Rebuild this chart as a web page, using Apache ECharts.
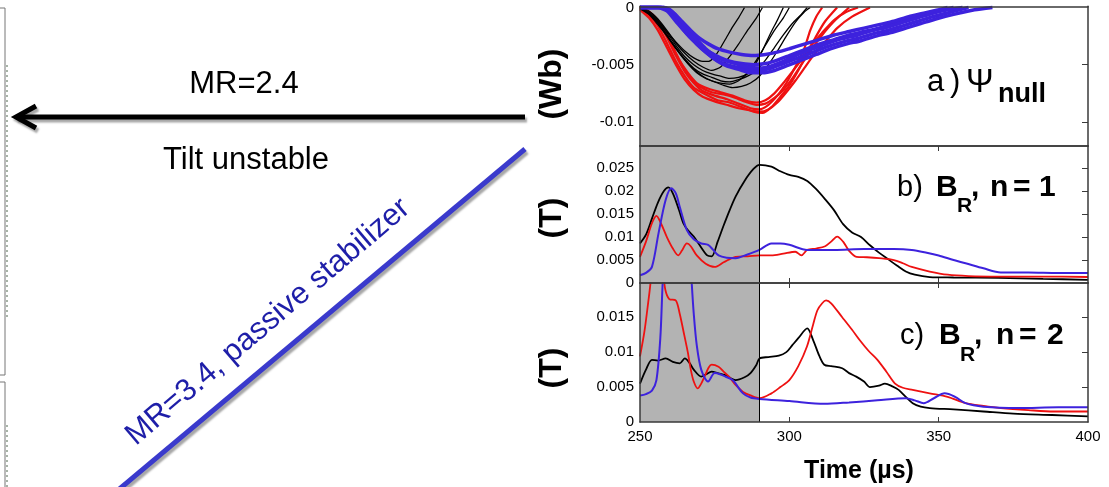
<!DOCTYPE html>
<html>
<head>
<meta charset="utf-8">
<script src="https://cdn.jsdelivr.net/npm/echarts@6/dist/echarts.min.js"></script>
<style>
html,body{margin:0;padding:0;background:#fff;}
#c{width:1109px;height:487px;}
</style>
</head>
<body>
<div id="c"></div>
<script>
// ---------- tick labels ----------
const timeTicks = [250, 300, 350, 400];
const timeMinorTicks = [300, 350];
const psiTicks = [0, -0.005, -0.01];
const brN1Ticks = [0, 0.005, 0.01, 0.015, 0.02, 0.025];
const brN2Ticks = [0, 0.005, 0.01, 0.015];
const shadeRange = [250, 290];

// ---------- a) Psi_null (Wb), several shots per case ----------
const psiRed1 = [[250,0],[253,-0.0004],[256,-0.0012],[259,-0.0026],[262,-0.0042],[265,-0.0056],[268,-0.0066],[271,-0.0073],[275,-0.0077],[279,-0.0080],[283,-0.0084],[287,-0.0088],[290,-0.0089],[293,-0.0085],[296,-0.0077],[299,-0.0066],[302,-0.0052],[305,-0.0036],[307,-0.0020],[309,-0.0008],[311,0]];
const psiRed2 = [[250,-0.0001],[253,-0.0007],[256,-0.0016],[259,-0.0031],[262,-0.0047],[265,-0.0060],[268,-0.0070],[272,-0.0076],[276,-0.0081],[280,-0.0083],[284,-0.0087],[288,-0.0091],[291,-0.0092],[294,-0.0087],[297,-0.0078],[300,-0.0068],[303,-0.0055],[306,-0.0040],[309,-0.0025],[312,-0.0012],[316,0]];
const psiRed3 = [[250,0],[252,-0.0002],[255,-0.0008],[258,-0.0019],[261,-0.0035],[264,-0.0050],[267,-0.0062],[270,-0.0069],[274,-0.0074],[278,-0.0076],[282,-0.0079],[286,-0.0083],[289,-0.0085],[292,-0.0084],[295,-0.0079],[298,-0.0072],[301,-0.0062],[304,-0.0050],[307,-0.0038],[311,-0.0024],[315,-0.0012],[320,0]];
const psiRed4 = [[250,-0.0002],[253,-0.0009],[256,-0.0020],[259,-0.0035],[262,-0.0050],[265,-0.0063],[268,-0.0072],[271,-0.0078],[275,-0.0082],[279,-0.0085],[283,-0.0088],[287,-0.0090],[290,-0.0091],[293,-0.0089],[296,-0.0083],[299,-0.0074],[302,-0.0064],[305,-0.0053],[308,-0.0042],[312,-0.0030],[316,-0.0018],[321,-0.0008],[327,0]];
const psiRed5 = [[250,0],[254,-0.0006],[257,-0.0015],[260,-0.0029],[263,-0.0045],[266,-0.0057],[269,-0.0066],[273,-0.0071],[277,-0.0074],[281,-0.0077],[285,-0.0081],[289,-0.0083],[292,-0.0081],[295,-0.0075],[298,-0.0066],[301,-0.0056],[304,-0.0046],[307,-0.0034],[311,-0.0022],[315,-0.0011],[319,-0.0004],[323,0]];

const psiBlack1 = [[250,0],[253,-0.0003],[256,-0.0010],[259,-0.0020],[262,-0.0031],[265,-0.0040],[268,-0.0047],[271,-0.0052],[274,-0.0055],[277,-0.0052],[280,-0.0043],[283,-0.0032],[286,-0.0020],[289,-0.0009],[291,0]];
const psiBlack2 = [[250,-0.0001],[253,-0.0006],[256,-0.0015],[259,-0.0025],[262,-0.0036],[265,-0.0046],[268,-0.0054],[271,-0.0060],[274,-0.0064],[277,-0.0066],[280,-0.0067],[283,-0.0064],[286,-0.0057],[289,-0.0046],[292,-0.0033],[295,-0.0020],[298,-0.0009],[300,0]];
const psiBlack3 = [[250,0],[254,-0.0008],[257,-0.0017],[260,-0.0028],[263,-0.0039],[266,-0.0049],[269,-0.0057],[272,-0.0062],[275,-0.0065],[278,-0.0068],[281,-0.0070],[284,-0.0069],[287,-0.0066],[290,-0.0060],[293,-0.0050],[296,-0.0038],[299,-0.0025],[302,-0.0013],[305,-0.0004],[307,0]];
const psiBlack4 = [[250,-0.0001],[253,-0.0005],[256,-0.0012],[259,-0.0022],[262,-0.0033],[265,-0.0043],[268,-0.0050],[271,-0.0055],[274,-0.0058],[277,-0.0060],[280,-0.0062],[283,-0.0061],[286,-0.0058],[288,-0.0052],[290,-0.0043],[292,-0.0032],[294,-0.0021],[296,-0.0011],[298,0]];
const psiBlack5 = [[250,0],[253,-0.0004],[256,-0.0011],[259,-0.0021],[262,-0.0030],[265,-0.0038],[268,-0.0044],[271,-0.0047],[273,-0.0047],[275,-0.0043],[277,-0.0035],[279,-0.0026],[281,-0.0017],[283,-0.0009],[285,0]];
const psiBlack6 = [[250,0],[253,-0.0005],[256,-0.0013],[259,-0.0024],[262,-0.0035],[265,-0.0045],[268,-0.0053],[271,-0.0058],[274,-0.0061],[277,-0.0064],[280,-0.0065],[283,-0.0063],[286,-0.0060],[289,-0.0055],[292,-0.0046],[295,-0.0035],[298,-0.0024],[301,-0.0014],[304,-0.0006],[306,0]];

const psiBlue1 = [[250,0],[256,0],[259,-0.0003],[262,-0.0012],[265,-0.0021],[268,-0.0029],[271,-0.0035],[274,-0.0040],[277,-0.0044],[280,-0.0047],[284,-0.0049],[288,-0.0050],[292,-0.0049],[296,-0.0046],[300,-0.0042],[305,-0.0037],[310,-0.0032],[315,-0.0028],[320,-0.0024],[325,-0.0021],[330,-0.0018],[335,-0.0014],[340,-0.0010],[345,-0.0006],[350,-0.0003],[355,0]];
const psiBlue2 = [[250,0],[257,0],[260,-0.0004],[263,-0.0014],[266,-0.0024],[269,-0.0032],[272,-0.0039],[275,-0.0045],[278,-0.0049],[282,-0.0052],[286,-0.0054],[290,-0.0055],[294,-0.0053],[298,-0.0049],[303,-0.0044],[308,-0.0039],[313,-0.0034],[318,-0.0030],[323,-0.0027],[328,-0.0023],[333,-0.0020],[338,-0.0016],[343,-0.0012],[348,-0.0008],[354,-0.0004],[360,0]];
const psiBlue3 = [[250,0],[258,0],[261,-0.0005],[264,-0.0015],[267,-0.0025],[270,-0.0034],[273,-0.0041],[276,-0.0047],[279,-0.0051],[283,-0.0054],[287,-0.0057],[291,-0.0057],[295,-0.0055],[299,-0.0051],[304,-0.0046],[309,-0.0041],[314,-0.0036],[319,-0.0032],[324,-0.0029],[329,-0.0025],[334,-0.0022],[339,-0.0018],[344,-0.0014],[349,-0.0010],[355,-0.0006],[362,-0.0002],[368,0]];
const psiBlue4 = [[250,0],[257,0],[260,-0.0002],[263,-0.0010],[266,-0.0019],[269,-0.0028],[272,-0.0036],[275,-0.0042],[278,-0.0046],[282,-0.0049],[286,-0.0052],[290,-0.0053],[294,-0.0051],[298,-0.0047],[303,-0.0041],[308,-0.0036],[313,-0.0031],[318,-0.0027],[323,-0.0024],[328,-0.0020],[333,-0.0017],[338,-0.0013],[343,-0.0009],[348,-0.0005],[353,-0.0002],[358,0]];
const psiBlue5 = [[250,0],[258,0],[261,-0.0004],[264,-0.0012],[267,-0.0020],[270,-0.0027],[273,-0.0032],[276,-0.0036],[280,-0.0039],[284,-0.0041],[288,-0.0042],[292,-0.0041],[296,-0.0039],[300,-0.0036],[305,-0.0032],[310,-0.0028],[315,-0.0024],[320,-0.0021],[325,-0.0018],[330,-0.0015],[335,-0.0012],[340,-0.0008],[345,-0.0005],[350,-0.0002],[353,0]];

// ---------- b) B_R, n=1 (T) ----------
const br1Black = [[250,0.0086],[252,0.0105],[254,0.0140],[256,0.0175],[258,0.0200],[259.5,0.0208],[261,0.0195],[263,0.0160],[264.5,0.0130],[266,0.0115],[268,0.0101],[270,0.0082],[272.5,0.0060],[274,0.0058],[276,0.0090],[278,0.0125],[280,0.0158],[282,0.0188],[285,0.0222],[288,0.0248],[290,0.0257],[294,0.0253],[297,0.0243],[300,0.0235],[303,0.0231],[306,0.0222],[309,0.0204],[312,0.0182],[315,0.0158],[318,0.0128],[321,0.0110],[324,0.0100],[327,0.0082],[330,0.0066],[333,0.0052],[336,0.0038],[339,0.0025],[342,0.0018],[347,0.0013],[355,0.0012],[370,0.0011],[385,0.0009],[400,0.0007]];
const br1Red = [[250,0.0057],[252,0.0090],[254,0.0130],[255.5,0.0146],[257,0.0130],[259,0.0100],[261,0.0075],[262.8,0.0060],[264,0.0070],[265.7,0.0086],[267,0.0080],[269,0.0060],[272,0.0042],[275,0.0035],[278,0.0045],[282,0.0057],[286,0.0058],[290,0.0060],[294,0.0060],[298,0.0064],[302,0.0068],[304,0.0060],[306,0.0072],[309,0.0075],[312,0.0080],[314,0.0090],[316,0.0101],[318,0.0090],[320,0.0070],[322.5,0.0057],[326,0.0056],[330,0.0054],[335,0.0050],[338,0.0043],[341,0.0035],[347,0.0025],[353,0.0018],[360,0.0015],[370,0.0014],[385,0.0014],[400,0.0013]];
const br1Blue = [[250,0.0017],[252,0.0022],[254,0.0035],[256.2,0.0108],[258.6,0.0181],[260.5,0.0206],[262,0.0195],[263.3,0.0166],[265.7,0.0115],[268,0.0095],[270.5,0.0086],[272.8,0.0083],[274.5,0.0072],[276.3,0.0060],[279,0.0055],[282,0.0054],[286,0.0062],[290,0.0072],[294,0.0086],[297,0.0086],[300,0.0083],[306,0.0072],[315,0.0072],[325,0.0074],[335,0.0074],[341,0.0072],[346,0.0066],[350,0.0060],[355,0.0050],[359,0.0043],[365,0.0032],[370.8,0.0023],[380,0.0023],[390,0.0022],[400,0.0022]];

// ---------- c) B_R, n=2 (T) ----------
const br2Black = [[250,0.0055],[252,0.0075],[254,0.0089],[256,0.0088],[258.6,0.0091],[261,0.0086],[263.3,0.0084],[265,0.0091],[266.5,0.0085],[268,0.0075],[270.5,0.0065],[272,0.0068],[274,0.0072],[276,0.0070],[278.6,0.0067],[282,0.0060],[285,0.0064],[287,0.0070],[289,0.0082],[290,0.0091],[293,0.0093],[296.5,0.0095],[299,0.0100],[301,0.0110],[303,0.0120],[306,0.0134],[308,0.0117],[310,0.0095],[311.7,0.0082],[314,0.0080],[317.7,0.0077],[320,0.0070],[322.4,0.0065],[325,0.0058],[327,0.0050],[330,0.0052],[332,0.0055],[334.5,0.0051],[336.6,0.0046],[339,0.0036],[341.3,0.0027],[344,0.0022],[347,0.0020],[355,0.0018],[365,0.0015],[375,0.0012],[388,0.0010],[400,0.0008]];
const br2Red = [[250,0.0094],[251.5,0.0130],[253,0.0180],[254.5,0.0230],[256,0.0250],[257.5,0.0220],[258.5,0.0189],[259.8,0.0176],[262,0.0174],[263.3,0.0155],[264.5,0.0131],[266,0.0100],[267,0.0075],[268,0.0058],[269.3,0.0048],[270.5,0.0055],[271.6,0.0065],[273,0.0078],[274,0.0082],[276.3,0.0079],[278,0.0072],[279.8,0.0065],[282,0.0053],[284.5,0.0043],[287,0.0038],[290.1,0.0034],[294,0.0041],[297,0.0050],[300,0.0060],[303,0.0080],[305.9,0.0108],[308,0.0140],[309.4,0.0160],[311,0.0170],[312.3,0.0174],[314,0.0170],[317.7,0.0150],[321,0.0132],[323.6,0.0117],[326.5,0.0102],[329.5,0.0089],[332.5,0.0072],[335.4,0.0055],[338,0.0049],[341.3,0.0046],[347,0.0041],[353,0.0036],[359,0.0027],[365,0.0023],[370.8,0.0020],[380,0.0017],[388.6,0.0015],[400,0.0015]];
const br2Blue = [[250,0.0038],[252,0.0040],[254,0.0045],[255.5,0.0060],[256.8,0.0120],[257.6,0.0200],[258.5,0.0260],[261,0.0280],[264,0.0280],[266.5,0.0260],[267.3,0.0200],[268,0.0155],[269,0.0110],[270.5,0.0075],[272.8,0.0058],[275,0.0070],[277,0.0068],[278.6,0.0065],[281,0.0060],[284.5,0.0041],[287,0.0035],[290,0.0033],[300,0.0030],[311.7,0.0026],[320,0.0028],[329.5,0.0031],[339,0.0034],[342,0.0031],[345,0.0027],[348.4,0.0034],[352,0.0041],[355.5,0.0036],[359,0.0027],[365,0.0022],[376.7,0.0020],[390,0.0021],[400,0.0021]];

// ---------- layout ----------
const GL = 640, GW = 448;
const grids = [
  {left: GL, width: GW, top: 6, height: 140},
  {left: GL, width: GW, top: 146, height: 137},
  {left: GL, width: GW, top: 283, height: 139}
];
const yRanges = [[-0.0121, 0.0001], [0, 0.0298], [0, 0.0199]];
const yLabelVals = [psiTicks, brN1Ticks, brN2Ticks];
const yRightTicks = [[-0.005, -0.01], [0.005, 0.01, 0.015, 0.02, 0.025], [0.005, 0.01, 0.015]];

const FONT = '"Liberation Sans", Arial, sans-serif';
const AX = '#3a3a3a';
const RED = '#ee1111', BLUE = '#3d22dd', BLACK = '#000000';

const xAxes = [], yAxes = [];
for (let i = 0; i < 3; i++) {
  xAxes.push({
    gridIndex: i, type: 'value', min: 250, max: 400, position: 'bottom', z: 10,
    axisLine: {show: true, onZero: false, lineStyle: {color: AX, width: 1.5}},
    axisTick: {show: i > 0, inside: true, length: 5, customValues: timeMinorTicks, lineStyle: {color: AX, width: 1}},
    axisLabel: {show: i === 2, customValues: timeTicks, margin: 7, color: '#000', fontSize: 15, fontFamily: FONT},
    splitLine: {show: false}
  });
}
for (let i = 0; i < 3; i++) {
  xAxes.push({
    gridIndex: i, type: 'value', min: 250, max: 400, position: 'top', z: 10,
    axisLine: {show: true, onZero: false, lineStyle: {color: AX, width: 1.5}},
    axisTick: {show: i > 0, inside: true, length: 5, customValues: timeMinorTicks, lineStyle: {color: AX, width: 1}},
    axisLabel: {show: false},
    splitLine: {show: false}
  });
}
for (let i = 0; i < 3; i++) {
  yAxes.push({
    gridIndex: i, type: 'value', min: yRanges[i][0], max: yRanges[i][1], position: 'left', z: 10,
    axisLine: {show: true, onZero: false, lineStyle: {color: AX, width: 1.5}},
    axisTick: {show: false},
    axisLabel: {show: true, customValues: yLabelVals[i], margin: 6, color: '#000', fontSize: 15, fontFamily: FONT,
      formatter: v => String(v)},
    splitLine: {show: false}
  });
}
for (let i = 0; i < 3; i++) {
  yAxes.push({
    gridIndex: i, type: 'value', min: yRanges[i][0], max: yRanges[i][1], position: 'right', z: 10,
    axisLine: {show: true, onZero: false, lineStyle: {color: AX, width: 1.5}},
    axisTick: {show: true, inside: true, length: 6, customValues: yRightTicks[i], lineStyle: {color: AX, width: 1}},
    axisLabel: {show: false},
    splitLine: {show: false}
  });
}

const series = [];
for (let i = 0; i < 3; i++) {
  series.push({
    type: 'line', xAxisIndex: i, yAxisIndex: i, data: [], z: 1, silent: true,
    markArea: {silent: true, itemStyle: {color: '#b3b3b3'}, data: [[{xAxis: shadeRange[0]}, {xAxis: shadeRange[1]}]]},
    markLine: {silent: true, symbol: ['none', 'none'], label: {show: false},
      lineStyle: {color: '#000', width: 1, type: 'solid'}, data: [{xAxis: shadeRange[1]}]}
  });
}
function addLine(data, idx, color, width, smooth) {
  series.push({
    type: 'line', xAxisIndex: idx, yAxisIndex: idx, data: data, showSymbol: false, symbol: 'none',
    smooth: smooth, z: 3, silent: true, clip: true,
    lineStyle: {color: color, width: width}
  });
}
[psiRed1, psiRed2, psiRed3, psiRed4, psiRed5].forEach(d => addLine(d, 0, RED, 2.2, 0.2));
[psiBlack1, psiBlack2, psiBlack3, psiBlack4, psiBlack5, psiBlack6].forEach(d => addLine(d, 0, BLACK, 1.3, 0.2));
[psiBlue1, psiBlue2, psiBlue3, psiBlue4, psiBlue5].forEach(d => addLine(d, 0, BLUE, 3.5, 0.2));
addLine(br1Black, 1, BLACK, 1.8, 0.3);
addLine(br1Red, 1, RED, 1.8, 0.3);
addLine(br1Blue, 1, BLUE, 2, 0.3);
addLine(br2Black, 2, BLACK, 1.8, 0.3);
addLine(br2Red, 2, RED, 1.8, 0.3);
addLine(br2Blue, 2, BLUE, 2, 0.3);

// ---------- text and annotations ----------
function tok(text, x, baseline, size, weight) {
  return {
    type: 'text', z: 100, silent: true,
    style: {x: x, y: baseline - 0.31 * size, text: text, fill: '#000',
      font: (weight || 'normal') + ' ' + size + 'px ' + FONT, align: 'left', verticalAlign: 'middle'}
  };
}
function ctext(text, x, y, size, weight, color, rot) {
  return {
    type: 'text', z: 100, silent: true, x: x, y: y, rotation: rot || 0,
    style: {x: 0, y: 0, text: text, fill: color || '#000',
      font: (weight || 'normal') + ' ' + size + 'px ' + FONT, align: 'center', verticalAlign: 'middle'}
  };
}
const shadow = {shadowColor: 'rgba(0,0,0,0.35)', shadowOffsetX: 2, shadowOffsetY: 3, shadowBlur: 2};

const graphics = [
  // panel titles
  tok('a', 927, 92, 31), tok(')', 950, 92, 31), tok('Ψ', 966, 93, 33),
  tok('null', 998, 103, 27, 'bold'),
  tok('b)', 897, 197, 29), tok('B', 936, 197, 30, 'bold'), tok('R', 957, 213, 21, 'bold'),
  tok(',', 971, 197, 30, 'bold'), tok('n', 990, 197, 30, 'bold'), tok('=', 1013, 197, 30, 'bold'), tok('1', 1039, 197, 30, 'bold'),
  tok('c)', 900, 345, 29), tok('B', 939, 345, 30, 'bold'), tok('R', 960, 362, 21, 'bold'),
  tok(',', 974, 345, 30, 'bold'), tok('n', 996, 345, 30, 'bold'), tok('=', 1019, 345, 30, 'bold'), tok('2', 1047, 345, 30, 'bold'),
  // axis names
  ctext('(Wb)', 552, 84, 32, 'bold', '#000', Math.PI / 2),
  ctext('(T)', 552, 218, 32, 'bold', '#000', Math.PI / 2),
  ctext('(T)', 552, 368, 32, 'bold', '#000', Math.PI / 2),
  ctext('Time (µs)', 859, 471, 25, 'bold'),
  // left annotation
  ctext('MR=2.4', 244, 84, 31),
  ctext('Tilt unstable', 246, 160, 31),
  {type: 'polyline', z: 50, silent: true, shape: {points: [[525, 117], [16, 117]]},
    style: Object.assign({stroke: '#000', lineWidth: 5, fill: null}, shadow)},
  {type: 'polyline', z: 50, silent: true, shape: {points: [[36, 106], [16, 117], [36, 128]]},
    style: Object.assign({stroke: '#000', lineWidth: 5, fill: null, lineJoin: 'miter'}, shadow)},
  {type: 'line', z: 50, silent: true, shape: {x1: 525, y1: 149, x2: 117, y2: 491},
    style: Object.assign({stroke: '#3a3acc', lineWidth: 5}, shadow)},
  ctext('MR=3.4, passive stabilizer', 268, 322, 31, 'normal', '#1e1ea8', 40.5 * Math.PI / 180),
  // remnants of the neighbouring figure at the left edge
  {type: 'line', z: 50, silent: true, shape: {x1: 5, y1: 8, x2: 5, y2: 375}, style: {stroke: '#777', lineWidth: 1}},
  {type: 'line', z: 50, silent: true, shape: {x1: 0, y1: 8, x2: 5, y2: 8}, style: {stroke: '#777', lineWidth: 1}},
  {type: 'line', z: 50, silent: true, shape: {x1: 0, y1: 375, x2: 5, y2: 375}, style: {stroke: '#777', lineWidth: 1}},
  {type: 'line', z: 50, silent: true, shape: {x1: 5, y1: 382, x2: 5, y2: 487}, style: {stroke: '#777', lineWidth: 1}},
  {type: 'line', z: 50, silent: true, shape: {x1: 0, y1: 382, x2: 5, y2: 382}, style: {stroke: '#777', lineWidth: 1}},
  {type: 'line', z: 50, silent: true, shape: {x1: 7, y1: 65, x2: 7, y2: 320}, style: {stroke: '#8a9a8a', lineWidth: 1.5, lineDash: [2, 3]}},
  {type: 'line', z: 50, silent: true, shape: {x1: 7, y1: 425, x2: 7, y2: 487}, style: {stroke: '#8a9a8a', lineWidth: 1.5, lineDash: [2, 3]}}
];

const chart = echarts.init(document.getElementById('c'), null, {renderer: 'canvas'});
chart.setOption({
  backgroundColor: '#ffffff',
  animation: false,
  grid: grids,
  xAxis: xAxes,
  yAxis: yAxes,
  series: series,
  graphic: graphics
});
</script>
</body>
</html>
